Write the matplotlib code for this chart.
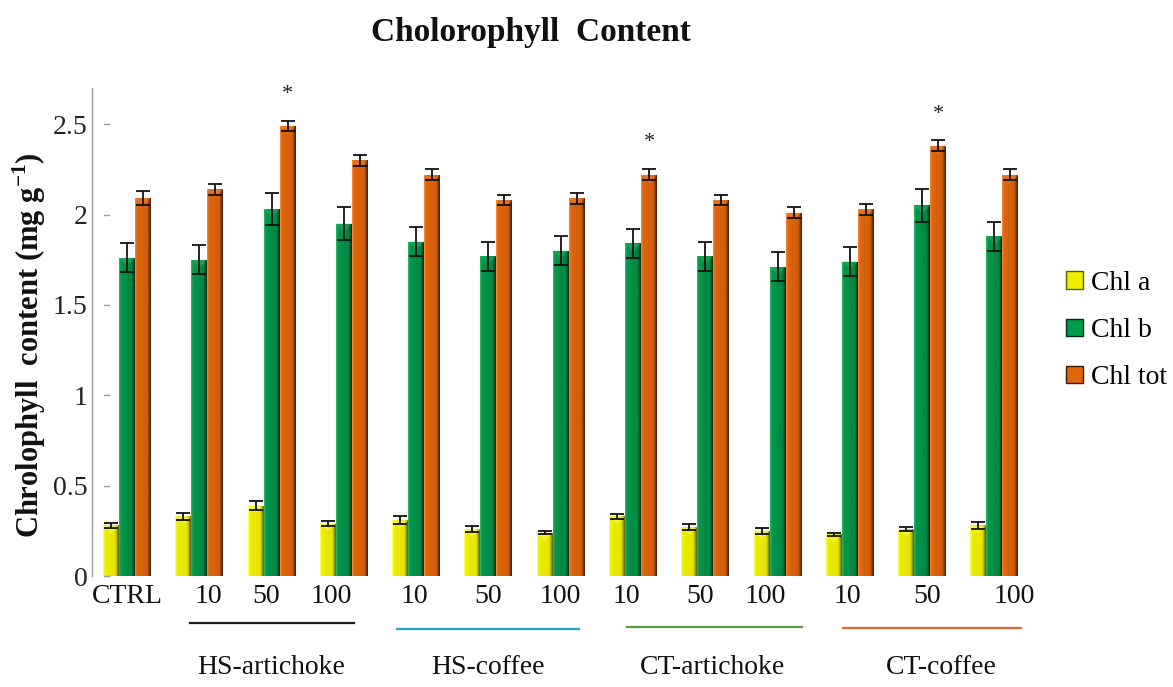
import numpy as np
import matplotlib.pyplot as plt
import matplotlib.transforms as mtransforms
from matplotlib.colors import LinearSegmentedColormap
from matplotlib.patches import Patch

plt.rcParams['font.family'] = ['Liberation Serif', 'DejaVu Serif']
plt.rcParams['mathtext.fontset'] = 'custom'
plt.rcParams['mathtext.rm'] = 'Liberation Serif'
plt.rcParams['mathtext.bf'] = 'Liberation Serif:bold'

# Treatments (doses) and their groups
treatments = ['CTRL', '10', '50', '100', '10', '50', '100',
              '10', '50', '100', '10', '50', '100']
groups = ['HS-artichoke', 'HS-coffee', 'CT-artichoke', 'CT-coffee']
group_members = [[1, 2, 3], [4, 5, 6], [7, 8, 9], [10, 11, 12]]

# Chlorophyll content (mg g-1) and error
chl_a = [0.28, 0.33, 0.39, 0.29, 0.31, 0.26, 0.24, 0.33, 0.27, 0.25, 0.23, 0.26, 0.28]
chl_b = [1.76, 1.75, 2.03, 1.95, 1.85, 1.77, 1.80, 1.84, 1.77, 1.71, 1.74, 2.05, 1.88]
chl_tot = [2.09, 2.14, 2.49, 2.30, 2.22, 2.08, 2.09, 2.22, 2.08, 2.01, 2.03, 2.38, 2.22]
err_a = [0.015, 0.02, 0.025, 0.015, 0.02, 0.015, 0.01, 0.015, 0.015, 0.015, 0.01, 0.01, 0.02]
err_b = [0.08, 0.08, 0.09, 0.09, 0.08, 0.08, 0.08, 0.08, 0.08, 0.08, 0.08, 0.09, 0.08]
err_tot = [0.04, 0.03, 0.03, 0.03, 0.03, 0.03, 0.03, 0.03, 0.03, 0.03, 0.03, 0.03, 0.03]

# Significant treatments (marked with *)
marked = [2, 7, 11]

series = [
    ('Chl a', chl_a, err_a, ['#ffff70', '#eeee00', '#e6e600', '#5c5c00']),
    ('Chl b', chl_b, err_b, ['#30b868', '#009a4c', '#008a44', '#002e14']),
    ('Chl tot', chl_tot, err_tot, ['#f58a3a', '#e0660e', '#d45f0c', '#3c1a02']),
]

# small shifts of the dose labels and group names (in group units)
label_shift = [0, 0.12, -0.08, -0.17, -0.03, 0, 0, -0.09, -0.07, -0.17, -0.04, 0.07, 0.28]
group_shift = [0, 0, 0.1, 0.26]
line_colors = ['#1a1a1a', '#2a9fd6', '#5f9b3f', '#e06a2a']
line_y = [623, 629, 627, 628]
line_span = [(0.87, 3.14), (3.73, 6.25), (6.91, 9.34), (9.90, 12.37)]

W, H = 1173, 687
fig = plt.figure(figsize=(W / 100, H / 100), dpi=100)
ax = fig.add_axes([92 / W, 1 - 576 / H, 948 / W, 488 / H])

x = np.arange(len(treatments))
width = 0.221


def shade_bar(patch, colors):
    x0, y0 = patch.get_x(), patch.get_y()
    w, h = patch.get_width(), patch.get_height()
    cmap = LinearSegmentedColormap.from_list(
        'bar', [(0, colors[0]), (0.12, colors[1]), (0.55, colors[2]),
                (0.78, colors[2]), (1, colors[3])])
    grad = np.linspace(0, 1, 64).reshape(1, -1)
    im = ax.imshow(grad, cmap=cmap, extent=(x0, x0 + w, y0, y0 + h),
                   aspect='auto', interpolation='bilinear', zorder=2)
    im.set_clip_path(patch)
    # bevelled top
    tip = min(0.045, h)
    ax.fill([x0, x0 + w, x0 + w / 2], [y0 + h, y0 + h, y0 + h - tip],
            color=colors[0], alpha=0.45, lw=0, zorder=2.5)


for k, (name, vals, errs, colors) in enumerate(series):
    pos = x + (k - 1) * width
    bars = ax.bar(pos, vals, width, color=colors[1], lw=0, zorder=1)
    for p in bars:
        shade_bar(p, colors)
    ax.errorbar(pos, vals, yerr=errs, fmt='none', ecolor='#111111',
                elinewidth=1.3, capsize=5, capthick=1.3, zorder=4)

for i in marked:
    ax.annotate('*', (x[i] + width, chl_tot[i] + err_tot[i]),
                xytext=(0, 19), textcoords='offset points',
                ha='center', va='center', fontsize=16, color='#222222')

ax.set_xlim(-0.484, 12.63)
ax.set_ylim(0, 2.7)

ax.set_yticks([0, 0.5, 1, 1.5, 2, 2.5])
ax.set_yticklabels(['0', '0.5', '1', '1.5', '2', '2.5'])
ax.tick_params(axis='y', length=0, pad=3, labelsize=20, labelcolor='#222222')
ax.set_xticks(x + np.array(label_shift))
ax.set_xticklabels(treatments)
ax.tick_params(axis='x', length=0, pad=6, labelsize=20, labelcolor='#111111')

# short marks just right of the axis line
ymark = mtransforms.blended_transform_factory(ax.transAxes, ax.transData)
for v in ax.get_yticks():
    ax.plot([0.013, 0.018], [v, v], transform=ymark, color='#9a9a9a',
            lw=1, clip_on=False)

for s in ['top', 'right', 'bottom']:
    ax.spines[s].set_visible(False)
ax.spines['left'].set_color('#999999')
ax.spines['left'].set_linewidth(1)

# group underlines and names
gtrans = mtransforms.blended_transform_factory(ax.transData, fig.transFigure)
for g, name in enumerate(groups):
    x0, x1 = line_span[g]
    ax.plot([x0, x1], [1 - line_y[g] / H] * 2, transform=gtrans,
            color=line_colors[g], lw=1.6, clip_on=False)
    mid = np.mean([x[i] for i in group_members[g]]) + group_shift[g]
    ax.text(mid, 1 - 668 / H, name, transform=gtrans, ha='center',
            va='center', fontsize=20, color='#111111')

fig.text(531 / W, 1 - 33 / H, 'Cholorophyll  Content', ha='center',
         va='center', fontsize=24, fontweight='bold', color='#111111')
fig.text(29 / W, 1 - 345 / H, r'Chrolophyll  content (mg g$^{\mathbf{-1}}$)',
         rotation=90, ha='center', va='center', fontsize=22,
         fontweight='bold', color='#111111')

handles = [Patch(facecolor=c[1], edgecolor=c[3], lw=1) for _, _, _, c in series]
fig.legend(handles, [s[0] for s in series], loc='upper left',
           bbox_to_anchor=(1066 / W, 1 - 271 / H), frameon=False, fontsize=20,
           handlelength=0.6, handleheight=0.6, handletextpad=0.3,
           labelspacing=0.8, borderpad=0, borderaxespad=0)

fig.savefig('out.png', dpi=100)
